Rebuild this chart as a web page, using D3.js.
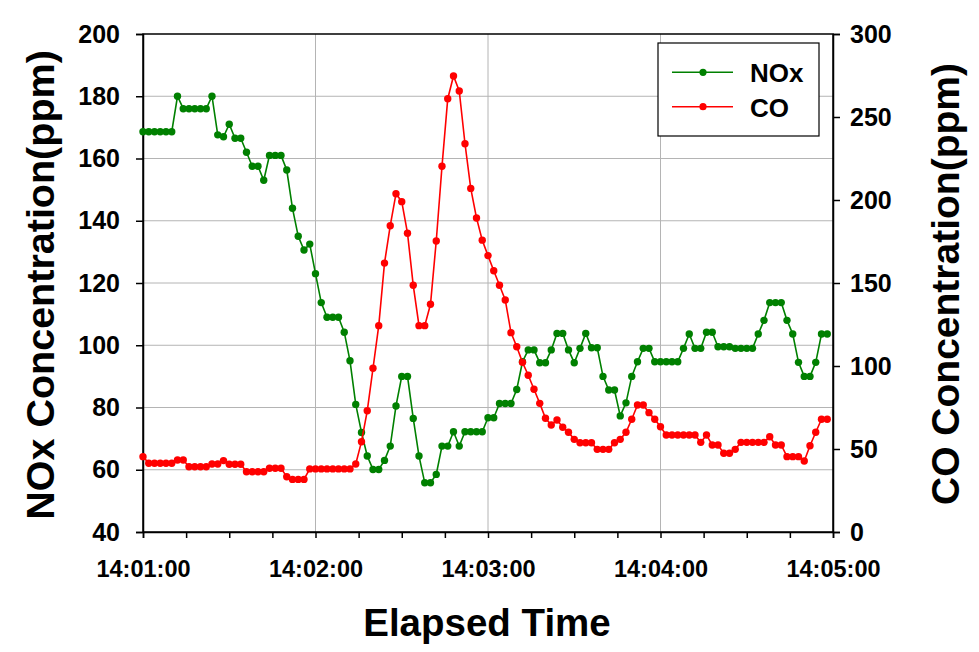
<!DOCTYPE html>
<html><head><meta charset="utf-8">
<script src="https://cdn.jsdelivr.net/npm/d3@7"></script>
<style>
body{margin:0;background:#fff}
text{font-family:Arial,"Liberation Sans",sans-serif;font-weight:bold;fill:#000}
</style>
</head><body><svg id="chart" width="979" height="652"></svg>
<script>
// ---- data ----
const startTime = "14:01:00";
const sampleIntervalSec = 2;
const seriesNames = ["NOx", "CO"];
const noxValues = [
 168.6,168.6,168.6,168.6,168.6,168.6,180,176,176,176,176,176,180,
 167.6,167,171,166.5,166.5,162,157.5,157.5,153,161,161,161,
 156.3,144,135,130.6,132.5,123,113.7,109,109,109,
 104.2,95,81,72,64.4,60.1,60.1,63,67.6,80.5,90,90,76.5,64.4,55.8,55.8,
 58.5,67.6,67.6,72.2,67.6,72.2,72.2,72.2,72.2,76.7,76.7,81.3,81.3,81.3,
 85.8,94.7,98.5,98.5,94.4,94.4,98.5,103.8,103.8,98.5,94.4,99,103.8,99.2,99.2,
 90,85.6,85.6,77.3,81.5,90,94.7,99,99,94.7,94.7,94.7,94.7,94.7,
 99,103.6,99,99,104.2,104.2,99.5,99.5,99.5,99,99,99,99,
 103.6,108,113.7,113.7,113.7,108,103.6,94.5,90,90,94.5,103.6,103.6
];
const coValues = [
 45.4,41.4,41.4,41.4,41.4,41.4,43.4,43.4,39.3,39.3,39.3,39.3,41,41,43,40.8,40.8,40.8,
 36.3,36.3,36.3,36.3,38.4,38.4,38.4,33.3,31.7,31.7,31.7,
 38,38,38,38,38,38,38,38,41,54.4,73,
 98.6,124.3,162,184.5,203.8,199,180,148.6,124.3,124.3,137.2,175.3,220.3,261,274.7,
 265.7,233.9,207,189.2,175.8,166.5,157.4,148.6,139.8,120.1,111.6,102.2,94.4,86,77.5,
 68.5,64.5,67.5,63.1,60.1,55.8,53.8,53.8,53.8,49.8,49.8,49.8,53.8,55.8,60.1,67.9,
 76.5,76.5,71.9,67.9,63.4,58.4,58.4,58.4,58.4,58.4,58.4,54,58.4,52.4,52.4,47.4,47.4,
 49.8,54,54,54,54,54,57.4,52.4,52.4,45.4,45.4,45.4,42.8,52,60.1,67.9,67.9
];
const xTickLabels = ["14:01:00","14:02:00","14:03:00","14:04:00","14:05:00"];
const noxTicks = [40,60,80,100,120,140,160,180,200];
const coTicks = [0,50,100,150,200,250,300];
const noxTitle = "NOx Concentration(ppm)";
const coTitle = "CO Concentration(ppm)";
const xTitle = "Elapsed Time";
const colors = {NOx:"#008000", CO:"#ff0000"};

// ---- layout ----
const svg = d3.select("#chart");
const L = 143, R = 833, T = 34, B = 532;
const parse = d3.timeParse("%H:%M:%S");
const t0 = parse(startTime);
const majorTimes = xTickLabels.map(parse);
const x = d3.scaleTime().domain([majorTimes[0], majorTimes[majorTimes.length-1]]).range([L, R]);
const yL = d3.scaleLinear().domain([noxTicks[0], noxTicks[noxTicks.length-1]]).range([B, T]);
const yR = d3.scaleLinear().domain([coTicks[0], coTicks[coTicks.length-1]]).range([B, T]);
const timeOf = i => new Date(t0.getTime() + i*sampleIntervalSec*1000);
const minorTimes = d3.timeSecond.every(15).range(majorTimes[0], d3.timeSecond.offset(majorTimes[majorTimes.length-1], 1));

// gridlines
const grid = svg.append("g").attr("stroke", "#b4b4b4").attr("stroke-width", 1);
noxTicks.slice(1, -1).forEach(v => grid.append("line").attr("x1", L).attr("x2", R).attr("y1", yL(v)).attr("y2", yL(v)));
majorTimes.slice(1, -1).forEach(t => grid.append("line").attr("y1", T).attr("y2", B).attr("x1", x(t)).attr("x2", x(t)));

// frame
svg.append("rect").attr("x", L).attr("y", T).attr("width", R-L).attr("height", B-T)
  .attr("fill", "none").attr("stroke", "#000").attr("stroke-width", 1.5);

// axes
const fmt = d3.timeFormat("%H:%M:%S");
const gx = svg.append("g").attr("transform", `translate(0,${B})`)
  .call(d3.axisBottom(x).tickValues(minorTimes).tickSize(6).tickPadding(22)
    .tickFormat(d => xTickLabels.includes(fmt(d)) ? fmt(d) : ""));
const gl = svg.append("g").attr("transform", `translate(${L},0)`)
  .call(d3.axisLeft(yL).tickValues(noxTicks).tickSize(7).tickPadding(16));
const gr = svg.append("g").attr("transform", `translate(${R},0)`)
  .call(d3.axisRight(yR).tickValues(coTicks).tickSize(7).tickPadding(10));
[gx, gl, gr].forEach(g => {
  g.selectAll("path").attr("stroke", "#000").attr("stroke-width", 1.5);
  g.selectAll("line").attr("stroke", "#000").attr("stroke-width", 1.5);
  g.selectAll("text").attr("font-family", "Arial, 'Liberation Sans', sans-serif").attr("font-weight", "bold");
});
gx.selectAll("text").attr("font-size", 23.5);
gl.selectAll("text").attr("font-size", 25);
gr.selectAll("text").attr("font-size", 25);

// series
const series = [
  {name: seriesNames[0], values: noxValues, y: yL},
  {name: seriesNames[1], values: coValues, y: yR}
];
series.forEach(s => {
  const pts = s.values.map((v, i) => [timeOf(i), v]);
  const line = d3.line().x(d => x(d[0])).y(d => s.y(d[1]));
  svg.append("path").datum(pts).attr("d", line).attr("fill", "none")
    .attr("stroke", colors[s.name]).attr("stroke-width", 1.6);
  svg.append("g").selectAll("circle").data(pts).join("circle")
    .attr("cx", d => x(d[0])).attr("cy", d => s.y(d[1])).attr("r", 3.7)
    .attr("fill", colors[s.name]);
});

// titles
svg.append("text").attr("transform", `translate(40,${(T+B)/2 + 2}) rotate(-90)`)
  .attr("text-anchor", "middle").attr("dominant-baseline", "central").attr("font-size", 39.5).text(noxTitle);
svg.append("text").attr("transform", `translate(945,${(T+B)/2 + 1}) rotate(-90)`)
  .attr("text-anchor", "middle").attr("dominant-baseline", "central").attr("font-size", 39).text(coTitle);
svg.append("text").attr("x", (L+R)/2 - 1).attr("y", 636).attr("text-anchor", "middle").attr("font-size", 38.5).text(xTitle);

// legend
const lg = svg.append("g");
lg.append("rect").attr("x", 658).attr("y", 43).attr("width", 161).attr("height", 93)
  .attr("fill", "#fff").attr("stroke", "#000").attr("stroke-width", 1.2);
series.forEach((s, k) => {
  const ly = k === 0 ? 72.3 : 106.7;
  lg.append("line").attr("x1", 672).attr("x2", 733).attr("y1", ly).attr("y2", ly)
    .attr("stroke", colors[s.name]).attr("stroke-width", 1.4);
  lg.append("circle").attr("cx", 703).attr("cy", ly).attr("r", 3.6).attr("fill", colors[s.name]);
  lg.append("text").attr("x", 750).attr("y", ly + 10).attr("font-size", 26).text(s.name);
});
</script>
</body></html>
